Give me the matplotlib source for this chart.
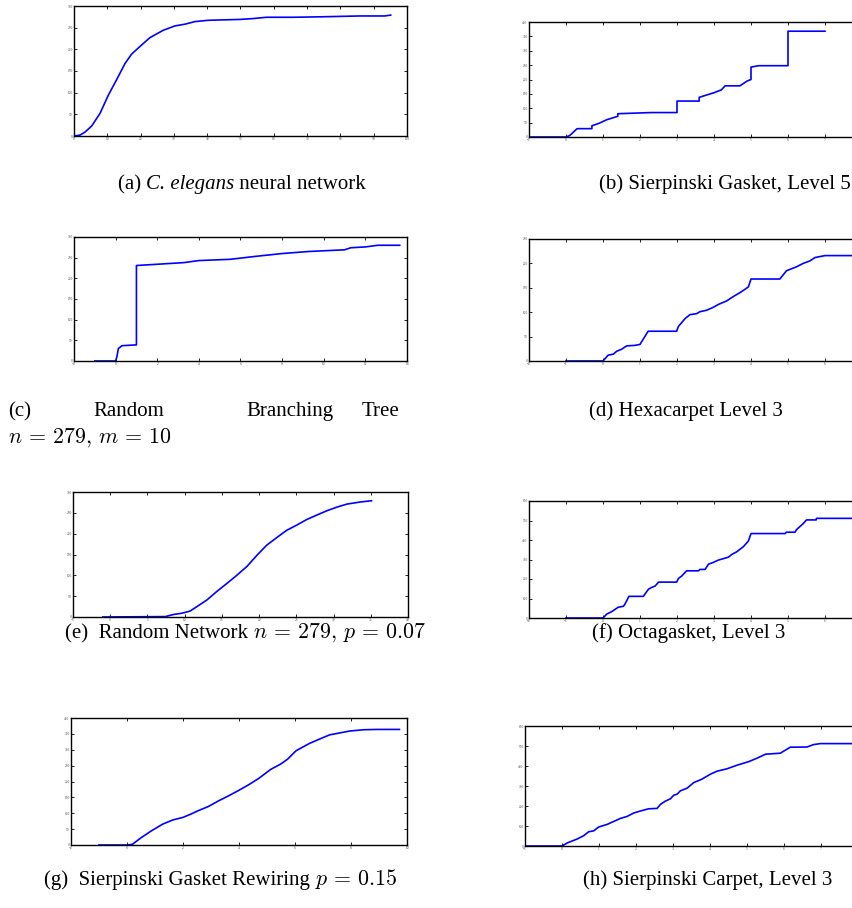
import matplotlib
matplotlib.use("Agg")
import matplotlib.pyplot as plt
import numpy as np

plt.rcParams['font.family'] = ['Liberation Serif', 'DejaVu Serif']
plt.rcParams['mathtext.fontset'] = 'cm'

# (a) C. elegans neural network
a_x = [0, 1.8, 3.3, 5.3, 7.8, 10.3, 12.8, 15.3, 17.3, 20.3, 22.8, 26.8, 30.3, 33.3, 36.3,
       40.3, 44.8, 49.8, 53.8, 57.8, 65.8, 73.8, 85.8, 93.3, 95.1]
a_y = [0, 2, 9, 23, 52, 94, 130, 167, 189, 210, 227, 244, 254, 258, 264,
       267, 268, 269, 271, 274, 274, 275, 277, 277, 279]

# (b) Sierpinski Gasket, Level 5
b_x = [-1, 0, 0.1, 0.3, 0.7, 0.7, 0.9, 1.1, 1.3, 1.4, 1.4, 2.3, 3.0, 3.0, 3.6, 3.6, 3.8, 4.0,
       4.2, 4.3, 4.7, 4.9, 5.0, 5.0, 5.2, 6.0, 6.0, 7.0]
b_y = [0, 0, 5, 29, 29, 39, 48, 60, 68, 72, 81, 85, 85, 125, 125, 138, 146, 154,
       164, 178, 178, 195, 200, 243, 248, 248, 368, 368]

# (c) Random Branching Tree n=279, m=10
c_x = [-1, 0, 0.06, 0.13, 0.3, 1.0, 1.0, 3.28, 4.0, 5.5, 6.7, 8.0, 9.3, 11.0, 11.3, 12.0, 12.6, 13.65]
c_y = [0, 0, 10, 30, 37, 39, 231, 238, 243, 246, 253, 260, 265, 269, 274, 276, 280, 280]

# (d) Hexacarpet Level 3
d_x = [-1, 0, 0.14, 0.28, 0.37, 0.5, 0.64, 0.86, 1.0, 1.22, 1.99, 2.04, 2.13, 2.22, 2.35, 2.53,
       2.62, 2.8, 2.98, 3.12, 3.34, 3.52, 3.7, 3.84, 3.93, 4.0, 4.78, 4.96, 5.23, 5.41, 5.59,
       5.73, 6.0, 7.0]
d_y = [0, 0, 12, 14, 20, 24, 31, 32, 34, 61, 61, 71, 79, 87, 95, 97,
       101, 104, 110, 116, 123, 132, 140, 147, 152, 168, 168, 185, 193, 200, 205,
       212, 216, 216]

# (e) Random Network n=279, p=0.07
e_x = [-1, 7.4, 8.5, 9.6, 10.7, 11.65, 13, 14.3, 15.7, 17, 18.4, 19.7, 21, 22.4, 23.7, 25.1,
       26.4, 27.8, 29.1, 30.5, 31.8, 33.6, 35.1]
e_y = [0, 1, 6, 9, 14, 25, 41, 61, 81, 100, 122, 148, 172, 191, 208, 221,
       234, 245, 255, 264, 271, 276, 279]

# (f) Octagasket, Level 3
f_x = [-1, 0, 0.1, 0.23, 0.41, 0.55, 0.59, 0.7, 1.09, 1.23, 1.32, 1.41, 1.5, 1.99, 2.04, 2.13,
       2.26, 2.58, 2.62, 2.76, 2.85, 2.98, 3.12, 3.39, 3.48, 3.61, 3.79, 3.93, 4.0, 4.92, 4.96,
       5.19, 5.23, 5.41, 5.5, 5.76, 5.77, 7.0]
f_y = [0, 0, 20, 32, 55, 60, 70, 111, 111, 148, 157, 164, 184, 184, 203, 216,
       242, 242, 249, 249, 276, 285, 297, 312, 326, 339, 365, 395, 433, 433, 440,
       440, 453, 484, 503, 503, 511, 511]

# (g) Sierpinski Gasket Rewiring p=0.15
g_x = [-1, 0, 0.19, 0.49, 0.86, 1.28, 1.64, 2.0, 2.3, 2.54, 2.9, 3.27, 3.63, 3.99, 4.35, 4.71,
       5.13, 5.49, 5.73, 6.04, 6.52, 6.94, 7.24, 7.6, 7.96, 8.45, 8.93, 9.73]
g_y = [0, 0, 2, 22, 44, 66, 79, 87, 98, 108, 121, 139, 155, 172, 190, 210,
       238, 255, 270, 297, 320, 336, 347, 353, 359, 363, 364, 364]

# (h) Sierpinski Carpet, Level 3
h_x = [-1, 0, 0.14, 0.41, 0.59, 0.72, 0.86, 0.99, 1.22, 1.4, 1.58, 1.76, 1.94, 2.12, 2.34, 2.57,
       2.66, 2.79, 2.93, 3.02, 3.11, 3.2, 3.38, 3.56, 3.78, 4.01, 4.19, 4.46, 4.73, 5.05, 5.27,
       5.5, 5.9, 6.17, 6.62, 6.8, 6.98, 7.9]
h_y = [0, 0, 15, 35, 52, 71, 76, 95, 108, 123, 138, 148, 165, 175, 186, 188,
       208, 224, 236, 254, 259, 276, 289, 317, 334, 359, 374, 386, 404, 422, 439,
       459, 464, 494, 495, 507, 512, 512]

W, H = 852, 908
fig = plt.figure(figsize=(W / 100, H / 100), dpi=100)

def px_axes(left, right, top, bottom):
    return fig.add_axes([left / W, 1 - bottom / H, (right - left) / W, (bottom - top) / H])

panels = [
    (a_x, a_y, (74, 407, 6, 136), (0, 100), np.arange(0, 101, 10), (0, 300), np.arange(0, 301, 50)),
    (b_x, b_y, (529, 862, 22, 137), (-1, 8), np.arange(-1, 9, 1), (0, 400), np.arange(0, 401, 50)),
    (c_x, c_y, (74, 407, 237, 361), (-2, 14), np.arange(-2, 15, 2), (0, 300), np.arange(0, 301, 50)),
    (d_x, d_y, (529, 862, 239, 361), (-2, 7), np.arange(-2, 8, 1), (0, 250), np.arange(0, 251, 50)),
    (e_x, e_y, (73, 408, 492, 617), (-5, 40), np.arange(-5, 41, 5), (0, 300), np.arange(0, 301, 50)),
    (f_x, f_y, (529, 862, 501, 618), (-2, 7), np.arange(-2, 8, 1), (0, 600), np.arange(0, 601, 100)),
    (g_x, g_y, (71, 407, 718, 845), (-2, 10), np.arange(-2, 11, 2), (0, 400), np.arange(0, 401, 50)),
    (h_x, h_y, (525, 858, 726, 846), (-1, 8), np.arange(-1, 9, 1), (0, 600), np.arange(0, 601, 100)),
]

for x, y, box, xl, xt, yl, yt in panels:
    ax = px_axes(*box)
    ax.plot(x, y, color=(0, 0, 1), lw=1.2)
    ax.set_xlim(*xl)
    ax.set_ylim(*yl)
    ax.set_xticks(xt)
    ax.set_yticks(yt)
    ax.tick_params(direction='in', top=True, right=True, length=2.5, width=0.6,
                   labelsize=2.5, pad=1, labelcolor='#444444')
    for s in ax.spines.values():
        s.set_linewidth(1.0)

fs = 15
renderer = fig.canvas.get_renderer()

def caption(cx, y, pieces, ha='center'):
    """pieces: list of (text, style, size factor). Laid side by side."""
    texts = []
    for s, st, k in pieces:
        t = fig.text(0, 1 - y / H, s, fontsize=fs * k, va='baseline', ha='left', style=st)
        texts.append(t)
    widths = [t.get_window_extent(renderer).width for t in texts]
    total = sum(widths)
    if ha == 'center':
        x0 = cx - total / 2
    elif ha == 'left':
        x0 = cx
    else:
        x0 = cx - total
    for t, w in zip(texts, widths):
        t.set_x(x0 / W)
        x0 += w

N = 'normal'
caption(242, 189, [('(a) ', N, 1), ('C. elegans', 'italic', 1), (' neural network', N, 1)])
caption(851, 189, [('(b) Sierpinski Gasket, Level 5', N, 1)], ha='right')
caption(8, 416, [('(c)', N, 1)], ha='left')
caption(129, 416, [('Random', N, 1)])
caption(290, 416, [('Branching', N, 1)])
caption(399, 416, [('Tree', N, 1)], ha='right')
caption(8, 443, [(r'$n \,=\, 279,\, m \,=\, 10$', N, 1.05)], ha='left')
caption(686, 416, [('(d) Hexacarpet Level 3', N, 1)])
caption(245, 638, [('(e)  Random Network ', N, 1), (r'$n \,=\, 279,\, p \,=\, 0.07$', N, 1.05)])
caption(689, 638, [('(f) Octagasket, Level 3', N, 1)])
caption(221, 885, [('(g)  Sierpinski Gasket Rewiring ', N, 1), (r'$p \,=\, 0.15$', N, 1.05)])
caption(708, 885, [('(h) Sierpinski Carpet, Level 3', N, 1)])

fig.savefig('out.png', dpi=100)
